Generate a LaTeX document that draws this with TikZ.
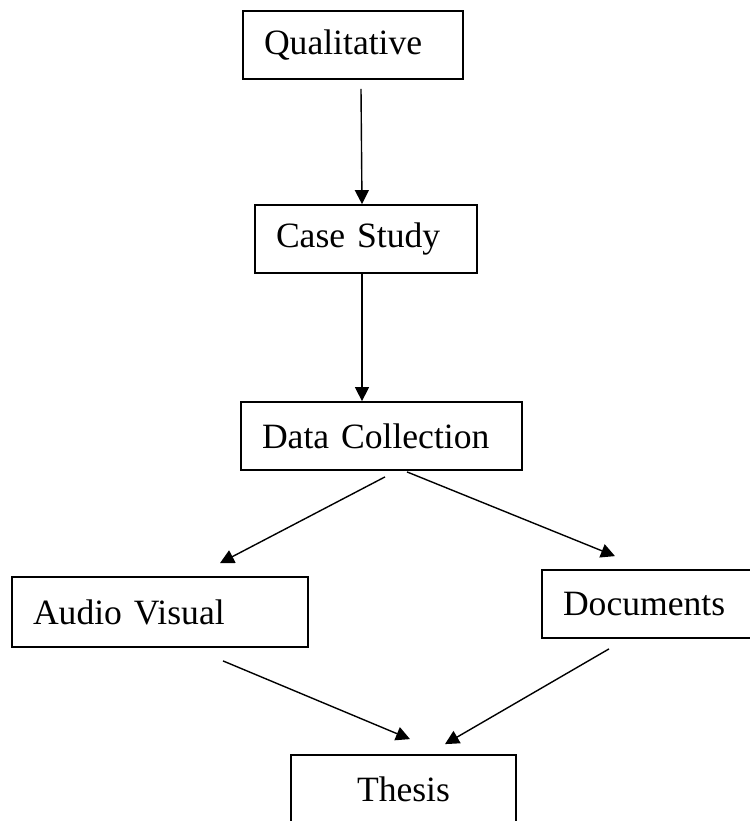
\documentclass[tikz,border=0pt]{standalone}
\usepackage{fontspec}
\setmainfont{Liberation Serif}
\usetikzlibrary{arrows.meta}

\begin{document}
\begin{tikzpicture}[x=0.5pt, y=-0.5pt,
  stage/.style={rectangle, draw, line width=0.9pt, minimum height=34pt, inner xsep=10.5pt, align=left, font=\fontsize{17.8}{21}\selectfont},
  flow/.style={-{Triangle[length=7pt,width=7pt]}, line width=0.7pt}]
\useasboundingbox (0,0) rectangle (750,821);

\node[stage, text width=89pt] (qual) at (353,45) {Qualitative};
\node[stage, text width=90pt] (case) at (366,239) {Case Study};
\node[stage, text width=119.5pt] (data) at (381.5,436) {Data Collection};
\node[stage, text width=127pt, minimum height=35pt] (audio) at (160,612) {Audio Visual};
\node[stage, text width=88pt] (docs) at (651,604) {Documents};
\node[stage, text width=91.5pt, align=center] (thesis) at (403.5,789) {Thesis};

\draw[flow] ([xshift=4pt,yshift=-4.5pt]qual.south) -- ([xshift=-2pt]case.north);
\draw[flow] ([xshift=-2pt]case.south) -- ([xshift=-9.75pt]data.north);
\draw[flow] ([xshift=1.75pt,yshift=-3pt]data.south) -- ([xshift=30pt,yshift=6.5pt]audio.north);
\draw[flow] ([xshift=12.75pt,yshift=-0.5pt]data.south) -- ([xshift=-18pt,yshift=6.5pt]docs.north);
\draw[flow] ([xshift=31.5pt,yshift=-6.5pt]audio.south) -- ([xshift=3.25pt,yshift=7.5pt]thesis.north);
\draw[flow] ([xshift=-21pt,yshift=-5pt]docs.south) -- ([xshift=20.75pt,yshift=5pt]thesis.north);
\end{tikzpicture}
\end{document}
